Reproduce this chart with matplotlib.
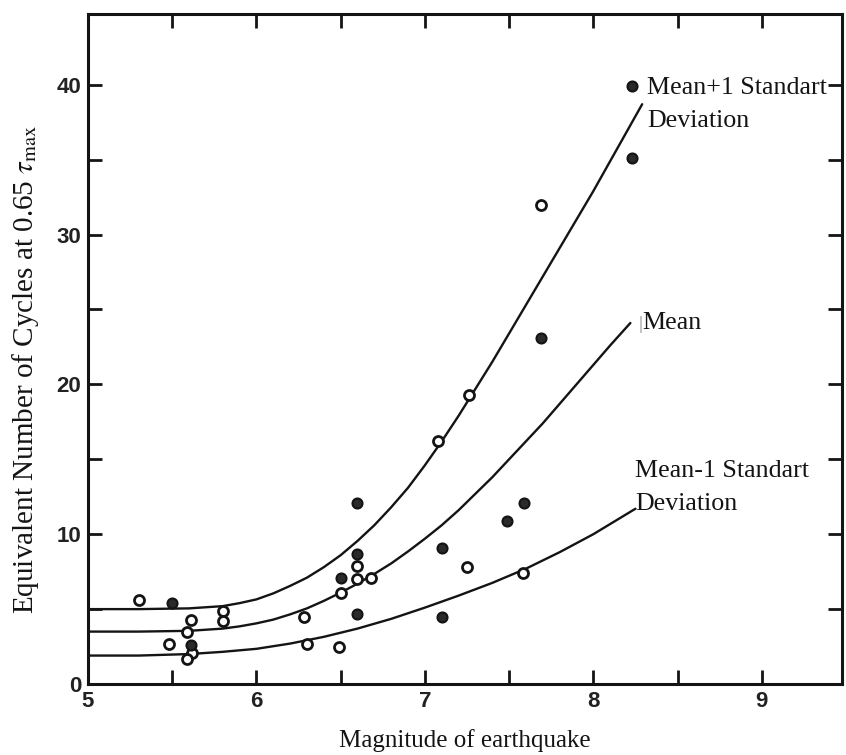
import matplotlib.pyplot as plt
import numpy as np

plt.rcParams['mathtext.fontset'] = 'stix'

# Observed earthquake records (magnitude, equivalent cycles)
dark_mag = [5.50, 5.61, 6.60, 6.60, 6.50, 6.60, 7.59, 7.49, 7.10, 7.10, 8.23, 8.23, 7.69]
dark_cyc = [5.4, 2.6, 12.1, 8.7, 7.1, 4.7, 12.1, 10.9, 9.1, 4.5, 39.9, 35.1, 23.1]

open_mag = [5.30, 5.80, 5.80, 5.61, 5.59, 5.48, 5.62, 5.59, 6.60, 6.60, 6.68, 6.50,
            6.28, 6.30, 6.49, 7.26, 7.08, 7.25, 7.58, 7.69]
open_cyc = [5.6, 4.9, 4.2, 4.3, 3.5, 2.7, 2.1, 1.7, 7.9, 7.0, 7.1, 6.1,
            4.5, 2.7, 2.5, 19.3, 16.2, 7.8, 7.4, 32.0]

# Curves traced along magnitude
upper_mag = [5.0, 5.3, 5.6, 5.8, 5.9, 6.0, 6.1, 6.2, 6.3, 6.4, 6.5, 6.6, 6.7, 6.8,
             6.9, 7.0, 7.1, 7.2, 7.3, 7.4, 7.5, 7.6, 7.7, 7.8, 7.9, 8.0, 8.1, 8.2, 8.29]
upper_cyc = [5.0, 5.0, 5.05, 5.2, 5.4, 5.65, 6.05, 6.55, 7.1, 7.8, 8.6, 9.55, 10.6, 11.8,
             13.1, 14.6, 16.2, 17.9, 19.7, 21.5, 23.4, 25.3, 27.2, 29.1, 31.0, 32.9, 34.9, 36.9, 38.7]

mean_mag = [5.0, 5.3, 5.6, 5.8, 5.9, 6.0, 6.1, 6.2, 6.3, 6.4, 6.5, 6.6, 6.7, 6.8,
            6.9, 7.0, 7.1, 7.2, 7.3, 7.4, 7.5, 7.6, 7.7, 7.8, 7.9, 8.0, 8.1, 8.22]
mean_cyc = [3.5, 3.5, 3.55, 3.7, 3.85, 4.05, 4.3, 4.65, 5.05, 5.55, 6.1, 6.7, 7.35, 8.05,
            8.85, 9.7, 10.6, 11.6, 12.7, 13.8, 15.0, 16.2, 17.4, 18.7, 20.0, 21.3, 22.6, 24.1]

lower_mag = [5.0, 5.3, 5.6, 5.8, 6.0, 6.2, 6.4, 6.6, 6.8, 7.0, 7.2, 7.4, 7.6, 7.8, 8.0, 8.25]
lower_cyc = [1.9, 1.9, 2.0, 2.15, 2.35, 2.7, 3.15, 3.7, 4.35, 5.1, 5.9, 6.75, 7.7, 8.8, 10.0, 11.7]

x_ticks = [5, 5.5, 6, 6.5, 7, 7.5, 8, 8.5, 9]
x_labels = ['5', '', '6', '', '7', '', '8', '', '9']
y_ticks = [0, 5, 10, 15, 20, 25, 30, 35, 40]
y_labels = ['0', '', '10', '', '20', '', '30', '', '40']

ink = '#141414'

fig = plt.figure(figsize=(8.46, 7.55), dpi=100)
ax = fig.add_axes([0.104, 0.094, 0.891, 0.887])

for m, c in [(upper_mag, upper_cyc), (mean_mag, mean_cyc), (lower_mag, lower_cyc)]:
    ax.plot(m, c, color=ink, lw=1.7, solid_capstyle='round', solid_joinstyle='round', zorder=2)

ax.plot(open_mag, open_cyc, 'o', ms=7.2, mfc='white', mec=ink, mew=2.0, zorder=3)
ax.plot(dark_mag, dark_cyc, 'o', ms=7.2, mfc='#2a2a2a', mec=ink, mew=1.5, zorder=3)

serif = 'Liberation Serif'
note = 18.7
ax.text(8.32, 39.4, 'Mean+1 Standart', family=serif, fontsize=note, color=ink)
ax.text(8.32, 37.2, 'Deviation', family=serif, fontsize=note, color=ink)
ax.text(8.27, 23.7, '|', family=serif, fontsize=14, color='0.55')
ax.text(8.29, 23.7, 'Mean', family=serif, fontsize=note, color=ink)
ax.text(8.25, 13.8, 'Mean-1 Standart', family=serif, fontsize=note, color=ink)
ax.text(8.25, 11.6, 'Deviation', family=serif, fontsize=note, color=ink)

ax.set_xlim(5, 9.475)
ax.set_ylim(0, 44.7)
ax.set_xticks(x_ticks)
ax.set_xticklabels(x_labels)
ax.set_yticks(y_ticks)
ax.set_yticklabels(y_labels)
ax.tick_params(direction='in', length=10, width=2, color=ink,
               top=True, right=True, labelsize=16, labelcolor='#222222', pad=5)
for lab in ax.get_xticklabels() + ax.get_yticklabels():
    lab.set_family('Liberation Sans')
    lab.set_fontweight('bold')

for side in ax.spines.values():
    side.set_linewidth(2.2)
    side.set_color(ink)

ax.set_xlabel('Magnitude of earthquake', family=serif, fontsize=18, color=ink, labelpad=12)
ax.set_ylabel(r'Equivalent Number of Cycles at 0.65 $\tau_{\rm max}$', family=serif,
              fontsize=21, color=ink)
ax.yaxis.set_label_coords(-0.062, 0.47)

fig.savefig('out.png', dpi=100, facecolor='white')
